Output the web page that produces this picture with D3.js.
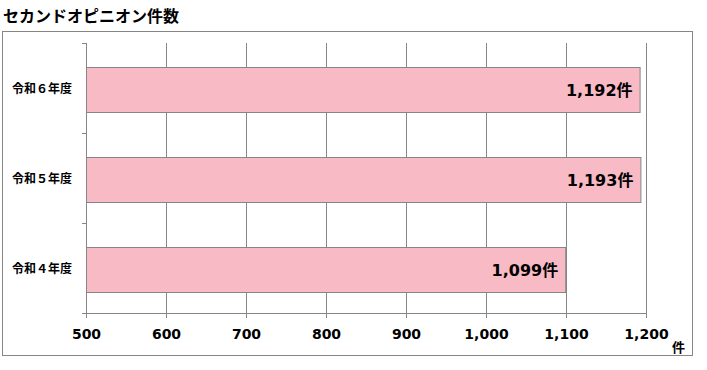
<!DOCTYPE html>
<html>
<head>
<meta charset="utf-8">
<script src="https://cdn.jsdelivr.net/npm/d3@7"></script>
<style>
  body { margin: 0; background: #fff; }
  text { font-family: "DejaVu Sans", "Noto Sans CJK JP", sans-serif; font-weight: bold; fill: #000; }
</style>
</head>
<body>
<script>
// data
var categories = ["令和６年度", "令和５年度", "令和４年度"];
var values = [1192, 1193, 1099];
var xTicks = [500, 600, 700, 800, 900, 1000, 1100, 1200];

var W = 707, H = 370;
var margin = {top: 43, left: 86, right: 61, bottom: 57};
var width = W - margin.left - margin.right,   // 560
    height = H - margin.top - margin.bottom;  // 270

var svg = d3.select("body").append("svg")
    .attr("width", W)
    .attr("height", H);

// title
svg.append("text")
    .attr("x", 3)
    .attr("y", 22)
    .style("font-size", "16px")
    .style("font-family", "'Noto Sans CJK JP', sans-serif")
    .text("セカンドオピニオン件数");

// outer border
svg.append("rect")
    .attr("x", 2.5)
    .attr("y", 31.5)
    .attr("width", 690)
    .attr("height", 324)
    .attr("fill", "none")
    .attr("stroke", "#868686")
    .attr("stroke-width", 1);

var g = svg.append("g")
    .attr("transform", "translate(" + margin.left + "," + margin.top + ")");

var x = d3.scaleLinear()
    .domain([500, 1200])
    .range([0, width]);

var y = d3.scaleBand()
    .domain(categories)
    .range([0, height])
    .paddingInner(0.5)
    .paddingOuter(0.25);

// gridlines
g.append("g")
    .selectAll("line")
    .data(xTicks.slice(1))
    .enter().append("line")
    .attr("x1", function(d) { return Math.round(x(d)) + 0.5; })
    .attr("x2", function(d) { return Math.round(x(d)) + 0.5; })
    .attr("y1", 0)
    .attr("y2", height)
    .attr("stroke", "#868686");

// bars
g.selectAll(".bar")
    .data(values)
    .enter().append("rect")
    .attr("class", "bar")
    .attr("x", x(500) + 0.5)
    .attr("y", function(d, i) { return Math.round(y(categories[i])) + 1.5; })
    .attr("width", function(d) { return x(d) - x(500); })
    .attr("height", y.bandwidth())
    .attr("fill", "#f8bac4")
    .attr("stroke", "#868686");

// value labels
g.selectAll(".val")
    .data(values)
    .enter().append("text")
    .attr("class", "val")
    .attr("x", function(d) { return x(d) - 7; })
    .attr("y", function(d, i) { return y(categories[i]) + y.bandwidth() / 2 + 7.5; })
    .attr("text-anchor", "end")
    .style("font-size", "16px")
    .text(function(d) { return d3.format(",")(d) + "件"; });

// x axis
var xAxis = g.append("g")
    .attr("transform", "translate(0," + height + ")")
    .call(d3.axisBottom(x).tickValues(xTicks).tickSize(5).tickPadding(11).tickFormat(d3.format(",")));
xAxis.selectAll("line, path").attr("stroke", "#868686");
xAxis.select(".domain").attr("d", "M-4,0.5H" + (width + 0.5));
xAxis.selectAll("text").style("font-size", "14px").attr("fill", "#000");

// y axis (category boundaries as ticks)
var yAxis = g.append("g");
yAxis.append("line")
    .attr("x1", 0.5).attr("x2", 0.5)
    .attr("y1", 0).attr("y2", height)
    .attr("stroke", "#868686");
yAxis.selectAll(".ytick")
    .data(d3.range(categories.length))
    .enter().append("line")
    .attr("x1", -4).attr("x2", 0.5)
    .attr("y1", function(i) { return i * height / categories.length + 0.5; })
    .attr("y2", function(i) { return i * height / categories.length + 0.5; })
    .attr("stroke", "#868686");
yAxis.selectAll(".ylabel")
    .data(categories)
    .enter().append("text")
    .attr("x", -14)
    .attr("y", function(d) { return y(d) + y.bandwidth() / 2 + 5; })
    .attr("text-anchor", "end")
    .style("font-size", "12px")
    .style("font-family", "'Noto Sans CJK JP', sans-serif")
    .text(function(d) { return d; });

// unit
svg.append("text")
    .attr("x", 672)
    .attr("y", 352)
    .style("font-size", "13px")
    .style("font-family", "'Noto Sans CJK JP', sans-serif")
    .text("件");
</script>
</body>
</html>
